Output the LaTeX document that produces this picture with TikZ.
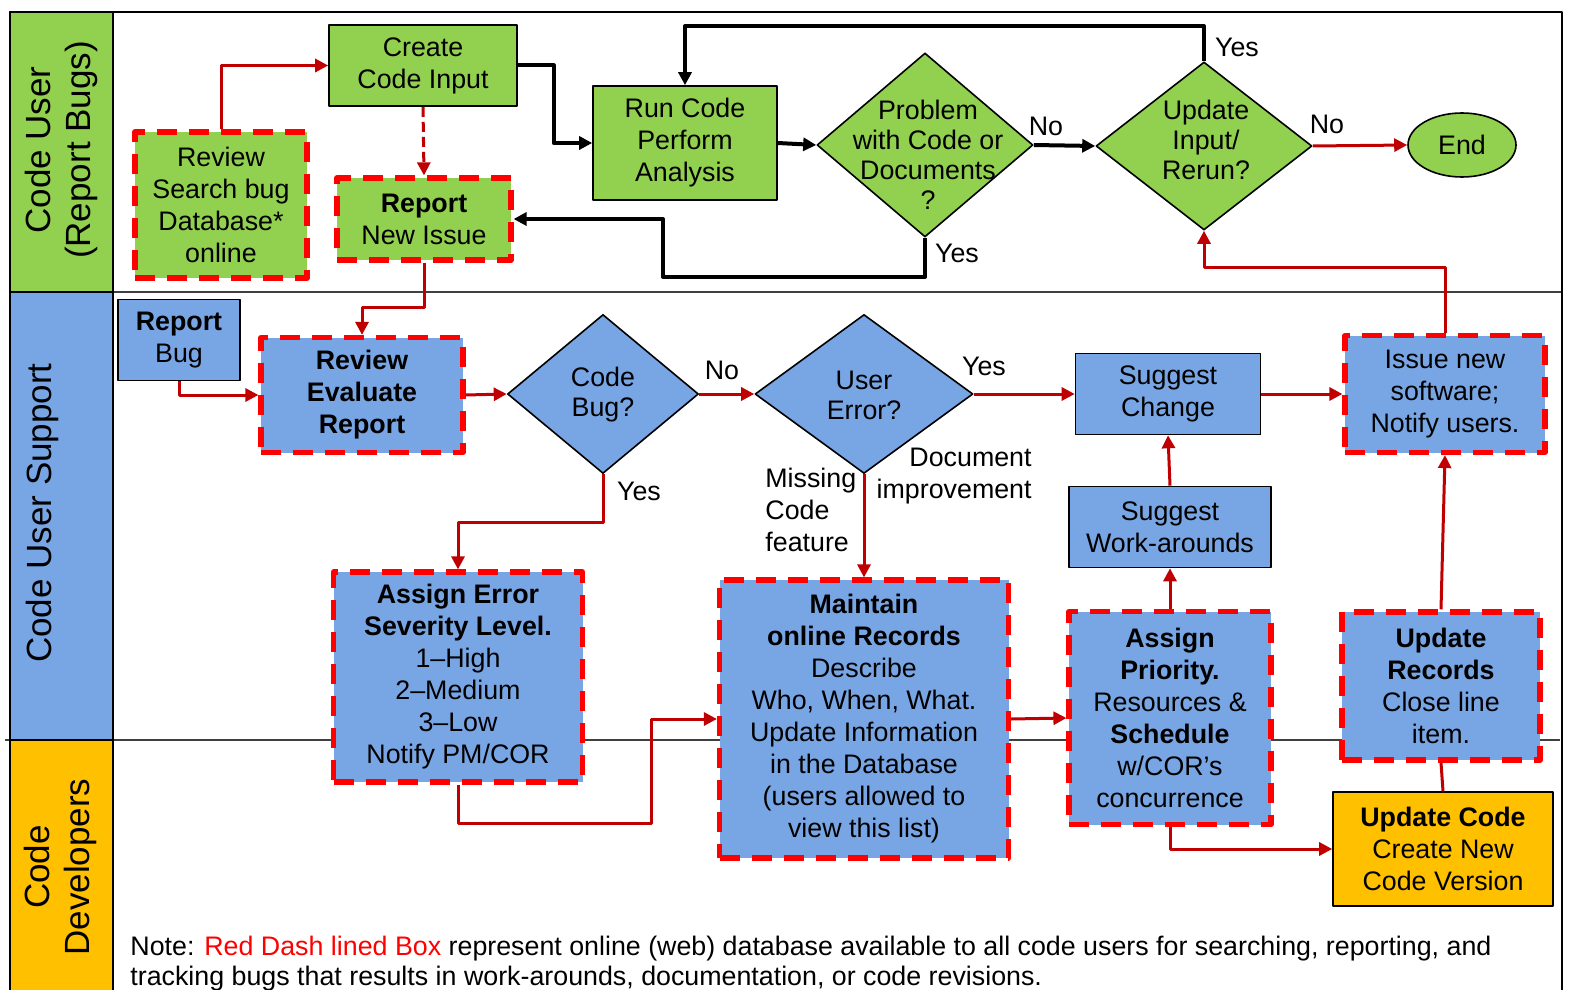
\documentclass[tikz,border=0pt]{standalone}
\usepackage{fontspec}
\setmainfont{Liberation Sans}
\usetikzlibrary{shapes.geometric,arrows.meta}
\definecolor{lgreen}{RGB}{146,208,80}
\definecolor{lblue}{RGB}{120,165,228}
\definecolor{lyellow}{RGB}{255,192,0}
\definecolor{dred}{RGB}{192,0,0}
\definecolor{bred}{RGB}{255,0,0}
\begin{document}
\begin{tikzpicture}[x=0.5pt,y=-0.5pt,line join=round,
	font=\fontsize{13.4}{16}\selectfont,
	box/.style={rectangle,draw=black,line width=0.8pt,align=center,inner sep=0pt},
	gbox/.style={box,fill=lgreen},
	bbox/.style={box,fill=lblue},
	ybox/.style={box,fill=lyellow},
	web/.style={draw=bred,line width=2.6pt,dash pattern=on 10pt off 6pt},
	dia/.style={diamond,draw=black,line width=0.8pt,inner sep=0pt},
	dtext/.style={align=center,inner sep=0pt,font=\fontsize{13.4}{15}\selectfont},
	lbl/.style={inner sep=0pt},
	lanetxt/.style={rotate=90,align=center,inner sep=0pt,font=\fontsize{17.5}{20}\selectfont},
	rarr/.style={draw=dred,line width=1.5pt,-{Triangle[length=6.5pt,width=6.5pt]}},
	karr/.style={draw=black,line width=2pt,-{Triangle[length=6.5pt,width=6.5pt]}}]
	\useasboundingbox (0,0) rectangle (1570,990);
	% swim lanes
	\draw[line width=1pt,black!75] (113,292) -- (1562,292);
	\draw[line width=1pt,black!75] (5,740) -- (1560,740);
	\draw[line width=1pt] (10,1000) -- (10,12) -- (1562,12) -- (1562,1000);
	\filldraw[fill=lgreen,line width=0.8pt] (10,12) rectangle (113,292);
	\filldraw[fill=lblue,line width=0.8pt] (10,292) rectangle (113,740);
	\filldraw[fill=lyellow,line width=0.8pt] (10,740) rectangle (113,1000);
	\node[lanetxt] (lane1) at (61,150) {Code User\\(Report Bugs)};
	\node[lanetxt] (lane2) at (42,513) {Code User Support};
	\node[lanetxt] (lane3) at (60,867) {Code\\Developers};
	% code user
	\node[gbox,minimum width=94pt,minimum height=40.5pt] (inp) at (423,65.5) {Create\\Code Input};
	\node[gbox,web,minimum width=86pt,minimum height=73pt] (srch) at (221,205) {Review\\Search bug\\Database*\\online};
	\node[gbox,web,minimum width=87pt,minimum height=41pt] (newiss) at (424,219) {\textbf{Report}\\New Issue};
	\node[gbox,minimum width=92pt,minimum height=57pt] (run) at (685,143) {Run Code\\Perform\\Analysis};
	\node[dia,fill=lgreen,minimum width=108pt,minimum height=92pt] (prob) at (925,145) {};
	\node[dtext] (probt) at (928,155) {Problem\\with Code or\\Documents\\?};
	\node[dia,fill=lgreen,minimum width=108pt,minimum height=84pt] (upd) at (1204,146) {};
	\node[dtext] (updt) at (1206,140) {Update\\Input/\\Rerun?};
	\node[ellipse,draw=black,line width=0.8pt,fill=lgreen,minimum width=54pt,minimum height=32pt,inner sep=0pt] (fin) at (1462,145) {End};
	% code user support
	\node[bbox,minimum width=61pt,minimum height=40.5pt] (rbug) at (179,340) {\textbf{Report}\\Bug};
	\node[bbox,web,minimum width=101pt,minimum height=57.5pt,font=\fontsize{13.4}{16}\selectfont\bfseries] (reval) at (362,395) {Review\\Evaluate\\Report};
	\node[dia,fill=lblue,minimum width=95.5pt,minimum height=79.5pt] (cbug) at (603,394) {};
	\node[dtext] (cbugt) at (603,395) {Code\\Bug?};
	\node[dia,fill=lblue,minimum width=109pt,minimum height=79.5pt] (uerr) at (864,394) {};
	\node[dtext] (uerrt) at (864,395) {User\\Error?};
	\node[bbox,minimum width=92.5pt,minimum height=40.5pt] (sugch) at (1168,394) {Suggest\\Change};
	\node[bbox,web,minimum width=100pt,minimum height=58.5pt] (issue) at (1445,394) {Issue new\\software;\\Notify users.};
	\node[bbox,minimum width=101pt,minimum height=40.5pt] (sugwa) at (1170,527) {Suggest\\Work-arounds};
	\node[bbox,web,minimum width=124.5pt,minimum height=105pt] (sever) at (458,677) {\textbf{Assign Error}\\\textbf{Severity Level.}\\1--High\\2--Medium\\3--Low\\Notify PM/COR};
	\node[bbox,web,minimum width=144.5pt,minimum height=139pt] (maint) at (864,719) {\textbf{Maintain}\\\textbf{online Records}\\Describe\\Who, When, What.\\Update Information\\in the Database\\(users allowed to\\view this list)};
	\node[bbox,web,minimum width=101pt,minimum height=106.5pt] (prio) at (1170,718) {\textbf{Assign}\\\textbf{Priority.}\\Resources \&\\\textbf{Schedule}\\w/COR’s\\concurrence};
	\node[bbox,web,minimum width=99pt,minimum height=74pt] (updrec) at (1441,686) {\textbf{Update}\\\textbf{Records}\\Close line\\item.};
	% code developers
	\node[ybox,minimum width=110pt,minimum height=57pt] (updcode) at (1443,849) {\textbf{Update Code}\\Create New\\Code Version};
	% connectors
	\draw[rarr] (srch.north) |- (inp.west);
	\draw[rarr,dash pattern=on 5pt off 2.5pt] (inp.south) -- (newiss.north);
	\draw[karr] (inp.east) -- ++(36,0) |- (run.west);
	\draw[karr] (run.east) -- (prob.west);
	\draw[karr] (prob.east) -- (upd.west);
	\draw[karr] (prob.south) |- (663,277) |- (newiss.east);
	\draw[karr] (upd.north) -- ++(0,-35) -| (run.north);
	\draw[rarr] (upd.east) -- (fin.west);
	\draw[rarr] (issue.north) -- ++(0,-65) -| (upd.south);
	\draw[rarr] (newiss.south) -- ++(0,45) -| (reval.north);
	\draw[rarr] (rbug.south) |- (reval.west);
	\draw[rarr] (reval.east) -- (cbug.west);
	\draw[rarr] (cbug.east) -- (uerr.west);
	\draw[rarr] (cbug.south) -- ++(0,48) -| (sever.north);
	\draw[rarr] (uerr.east) -- (sugch.west);
	\draw[rarr] (uerr.south) -- (maint.north);
	\draw[rarr] (sever.south) |- (651,823) |- (maint.west);
	\draw[rarr] (maint.east) -- (prio.west);
	\draw[rarr] (prio.north) -- (sugwa.south);
	\draw[rarr] (sugwa.north) -- (sugch.south);
	\draw[rarr] (sugch.east) -- (issue.west);
	\draw[rarr] (prio.south) |- (updcode.west);
	\draw[draw=dred,line width=1.5pt] (updcode.north) -- (updrec.south);
	\draw[rarr] (updrec.north) -- (issue.south);
	% branch labels
	\node[lbl] (lno1) at (1046,126) {No};
	\node[lbl] (lyes1) at (957,253) {Yes};
	\node[lbl] (lyes2) at (1237,47) {Yes};
	\node[lbl] (lno2) at (1327,124) {No};
	\node[lbl] (lno3) at (722,370) {No};
	\node[lbl] (lyes3) at (639,491) {Yes};
	\node[lbl] (lyes4) at (984,366) {Yes};
	\node[lbl,align=left,anchor=north west] (lmiss) at (765,468) {Missing\\Code\\feature};
	\node[lbl,align=right,anchor=north east] (ldoc) at (1032,448) {Document\\improvement};
	% note
	\node[lbl,anchor=base west] (note1) at (130,955) {Note: \textcolor{bred}{Red Dash lined Box} represent online (web) database available to all code users for searching, reporting, and};
	\node[lbl,anchor=base west] (note2) at (130,985) {tracking bugs that results in work-arounds, documentation, or code revisions.};
\end{tikzpicture}
\end{document}
